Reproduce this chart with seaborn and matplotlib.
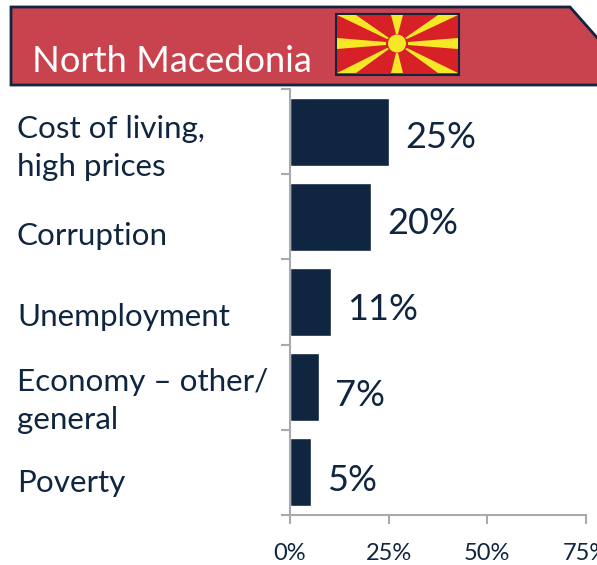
import numpy as np
import pandas as pd
import matplotlib
matplotlib.use('Agg')
import matplotlib.pyplot as plt
import seaborn as sns
from matplotlib.patches import Polygon, Rectangle, Circle

categories = ['Cost of living,\nhigh prices', 'Corruption', 'Unemployment',
              'Economy – other/\ngeneral', 'Poverty']
values = [25.1, 20.5, 10.4, 7.3, 5.3]
value_labels = ['25%', '20%', '11%', '7%', '5%']
x_ticks = [0, 25, 50, 75]
x_tick_labels = ['0%', '25%', '50%', '75%']
title = 'North Macedonia'

# how far each label sits below its bar centre, in pixels
label_drop = [16, 19, 15, 13.5, 10.5]
value_drop = [6, 7, 7, 8, 8]

NAVY = '#0f2540'
GREY = '#a9a9b0'
W, H = 597, 565


def draw_header(fig):
    # overlay in pixel coordinates for the banner and flag
    bg = fig.add_axes([0, 0, 1, 1], zorder=5)
    bg.set_xlim(0, W)
    bg.set_ylim(H, 0)
    bg.axis('off')
    bg.patch.set_alpha(0)
    bg.add_patch(Polygon([(11, 7), (570, 7), (600, 41), (600, 85), (11, 85)],
                         closed=True, fc='#c9434e', ec=NAVY, lw=2))
    bg.text(32, 72, title, color='white', fontsize=26.1, ha='left', va='baseline')

    # flag
    bg.add_patch(Rectangle((336, 14), 123, 61, fc='#d82126', ec=NAVY, lw=1.5))
    rays = [
        [(337, 15), (356, 15), (389, 38), (387, 39)],
        [(391, 15), (403, 15), (398, 34), (396, 34)],
        [(438, 15), (458, 15), (407, 39), (405, 38)],
        [(458, 38), (458, 49), (408, 45), (408, 42)],
        [(458, 73), (438, 73), (405, 49), (407, 48)],
        [(403, 73), (391, 73), (396, 53), (398, 53)],
        [(356, 73), (337, 73), (387, 48), (389, 49)],
        [(337, 49), (337, 38), (386, 42), (386, 45)],
    ]
    for r in rays:
        bg.add_patch(Polygon(r, closed=True, fc='#f7e727', ec='none'))
    bg.add_patch(Circle((397, 43.5), 9, fc='#f7e727', ec='none'))


def main():
    sns.set_style('white')
    plt.rcParams['font.family'] = ['Lato', 'DejaVu Sans']

    df = pd.DataFrame({'category': categories, 'value': values})

    fig = plt.figure(figsize=(W / 100, H / 100), dpi=100)
    ax = fig.add_axes([290 / W, 1 - 515 / H, (586 - 290) / W, (515 - 89) / H])

    sns.barplot(data=df, y='category', x='value', orient='h', color=NAVY,
                saturation=1, width=0.8, ax=ax)

    ax.set_xlim(0, 75)
    ax.set_ylim(len(categories) - 0.5, -0.5)
    ax.set_xlabel('')
    ax.set_ylabel('')

    ax.set_xticks(x_ticks)
    ax.set_xticklabels(x_tick_labels, fontsize=17, color=NAVY)
    ax.set_yticks(np.arange(len(categories) + 1) - 0.5)
    ax.set_yticklabels([])
    ax.tick_params(axis='both', length=6.5, width=1.5, color=GREY,
                   bottom=True, left=True, pad=14)

    for s in ['top', 'right']:
        ax.spines[s].set_visible(False)
    for s in ['left', 'bottom']:
        ax.spines[s].set_color(GREY)
        ax.spines[s].set_linewidth(1.5)

    for i, cat in enumerate(categories):
        ax.annotate(cat, xy=(0, i), xycoords=('axes fraction', 'data'),
                    xytext=(17 - 290, -label_drop[i]), textcoords='offset pixels',
                    fontsize=22.6, color=NAVY, ha='left', va='center',
                    linespacing=1.44, annotation_clip=False)

    # value labels just right of each bar
    for i, lab in enumerate(value_labels):
        ax.annotate(lab, xy=(values[i], i), xytext=(16, -value_drop[i]),
                    textcoords='offset pixels', fontsize=26, color=NAVY,
                    ha='left', va='center', annotation_clip=False)

    draw_header(fig)
    fig.savefig('out.png', dpi=100)


if __name__ == '__main__':
    main()
